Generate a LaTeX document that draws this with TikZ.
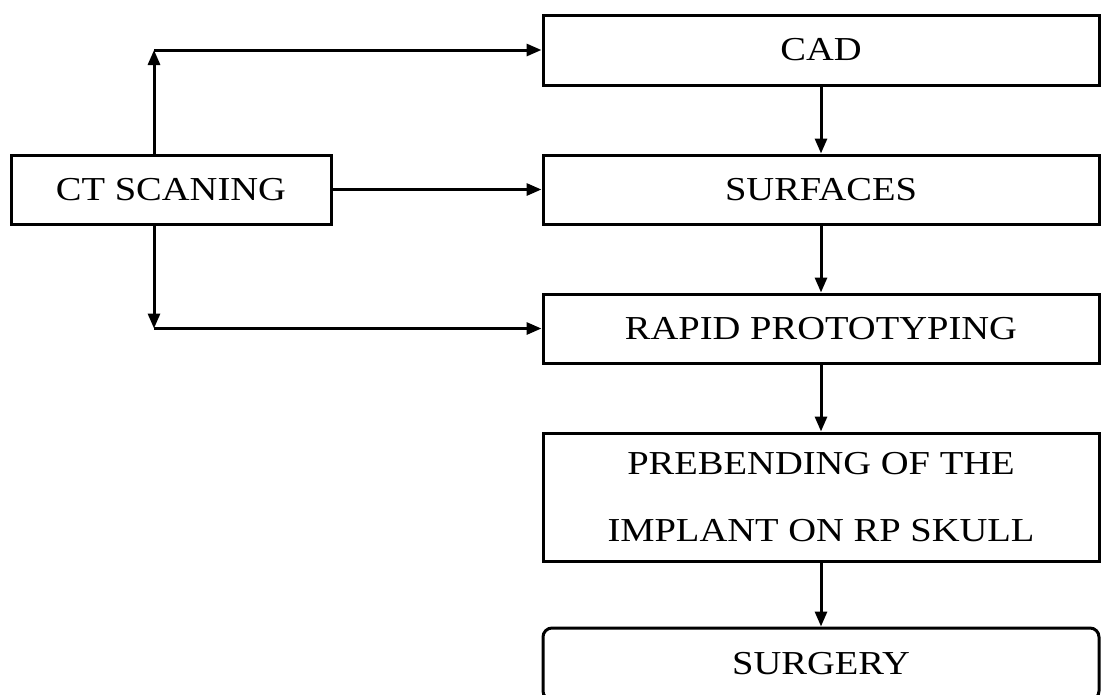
\documentclass[tikz,border=0pt]{standalone}
\usepackage{fontspec}
\setmainfont{Liberation Serif}[FakeStretch=1.15]
\usetikzlibrary{arrows.meta}

\tikzset{
    stepbox/.style={draw, line width=3pt, inner sep=0pt, minimum width=556pt,
        align=center, font=\fontsize{33.5}{67}\selectfont},
    flow/.style={line width=3pt, -{Triangle[length=15pt,width=12pt]}},
}

\begin{document}
\begin{tikzpicture}[x=1pt, y=-1pt]
    \useasboundingbox (0,0) rectangle (1103,694);

    % left box
    \node [stepbox, minimum width=320pt, minimum height=69pt] (ct) at (171,189.5) {CT SCANING};

    % column of steps
    \node [stepbox, minimum height=70pt] (cad) at (821,50) {CAD};
    \node [stepbox, minimum height=69pt] (surf) at (821,189.5) {SURFACES};
    \node [stepbox, minimum height=69pt] (rp) at (821,328.5) {RAPID PROTOTYPING};
    \node [stepbox, minimum height=128pt] (preb) at (821,497) {PREBENDING OF THE\\IMPLANT ON RP SKULL};
    \node [stepbox, minimum height=72pt, rounded corners=9pt] (surg) at (821,664) {SURGERY};

    % branch points
    \coordinate (up) at (154,50);
    \coordinate (dn) at (154,328.5);

    % from CT
    \draw [flow] (ct.north -| up) -- (up);
    \draw [flow] (up) -- (cad.west);
    \draw [flow] (ct.east) -- (surf.west);
    \draw [flow] (ct.south -| dn) -- (dn);
    \draw [flow] (dn) -- (rp.west);

    % down the column
    \draw [flow] (cad) -- (surf);
    \draw [flow] (surf) -- (rp);
    \draw [flow] (rp) -- (preb);
    \draw [flow] (preb) -- (surg);
\end{tikzpicture}
\end{document}
